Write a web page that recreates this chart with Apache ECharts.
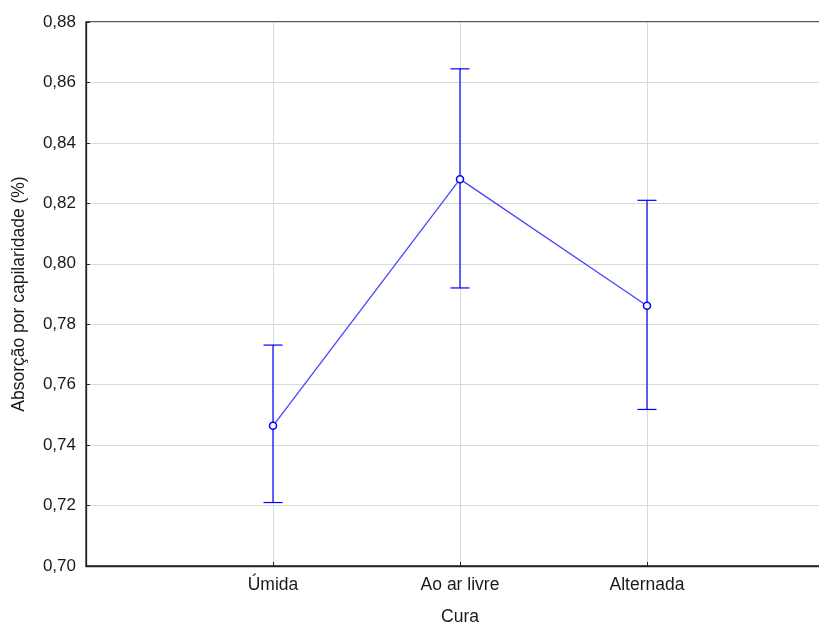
<!DOCTYPE html>
<html>
<head>
<meta charset="utf-8">
<script src="https://cdn.jsdelivr.net/npm/echarts@6/dist/echarts.min.js"></script>
<style>
  html, body { margin: 0; padding: 0; background: #ffffff; }
  #chart { width: 819px; height: 624px; }
</style>
</head>
<body>
<div id="chart"></div>
<script>
// Curing methods (empty slots pad the axis so the three groups sit at 1, 2, 3)
const categories = ['', 'Úmida', 'Ao ar livre', 'Alternada', ''];
const curingGroups = ['Úmida', 'Ao ar livre', 'Alternada'];
// Mean capillary absorption and the ends of each interval
const means = [0.7464, 0.8280, 0.7861];
const upper = [0.7731, 0.8645, 0.8210];
const lower = [0.7210, 0.7920, 0.7518];
// Value-axis ticks
const yTicks = [0.70, 0.72, 0.74, 0.76, 0.78, 0.80, 0.82, 0.84, 0.86, 0.88];

const FONT = 'Liberation Sans, Arial, sans-serif';
const TEXT = '#1a1a1a';
const BLUE = '#0000ff';

const chart = echarts.init(document.getElementById('chart'), null, { renderer: 'canvas' });

const errorData = curingGroups.map((g, i) => [g, lower[i], upper[i]]);
const meanData = curingGroups.map((g, i) => [g, means[i]]);

chart.setOption({
  animation: false,
  backgroundColor: '#ffffff',
  grid: {
    left: 86, top: 22, bottom: 58, right: -15,
    containLabel: false,
    outerBoundsMode: 'none',
    show: true, borderColor: '#222222', borderWidth: 1.3, backgroundColor: 'transparent'
  },
  xAxis: {
    type: 'category',
    data: categories,
    boundaryGap: false,
    name: 'Cura',
    nameLocation: 'middle',
    nameGap: 42,
    nameTextStyle: { fontFamily: FONT, fontSize: 17.5, color: TEXT },
    axisLine: { show: true, lineStyle: { color: '#222222', width: 1.3 } },
    axisTick: { show: true, inside: true, length: 4, lineStyle: { color: '#222222' } },
    axisLabel: { fontFamily: FONT, fontSize: 17.5, color: TEXT, margin: 10 },
    splitLine: { show: true, lineStyle: { color: '#d9d9d9', width: 1 } }
  },
  yAxis: {
    type: 'value',
    min: yTicks[0],
    max: yTicks[yTicks.length - 1],
    interval: 0.02,
    name: 'Absorção por capilaridade (%)',
    nameLocation: 'middle',
    nameGap: 58,
    nameTextStyle: { fontFamily: FONT, fontSize: 17.5, color: TEXT },
    axisLine: { show: true, lineStyle: { color: '#222222', width: 1.3 } },
    axisTick: { show: true, inside: true, length: 4, lineStyle: { color: '#222222' } },
    axisLabel: {
      fontFamily: FONT, fontSize: 17, color: TEXT, margin: 10,
      formatter: v => v.toFixed(2).replace('.', ',')
    },
    splitLine: { show: true, lineStyle: { color: '#d9d9d9', width: 1 } }
  },
  series: [
    {
      name: 'intervalo',
      type: 'custom',
      z: 3,
      data: errorData,
      renderItem: function (params, api) {
        const x = api.value(0);
        const lo = api.coord([x, api.value(1)]);
        const hi = api.coord([x, api.value(2)]);
        const half = 9.5;
        const style = { stroke: BLUE, lineWidth: 1.2 };
        return {
          type: 'group',
          children: [
            { type: 'line', shape: { x1: lo[0], y1: lo[1], x2: hi[0], y2: hi[1] }, style: style },
            { type: 'line', shape: { x1: lo[0] - half, y1: lo[1], x2: lo[0] + half, y2: lo[1] }, style: style },
            { type: 'line', shape: { x1: hi[0] - half, y1: hi[1], x2: hi[0] + half, y2: hi[1] }, style: style }
          ]
        };
      }
    },
    {
      name: 'média',
      type: 'line',
      z: 4,
      data: meanData,
      symbol: 'circle',
      symbolSize: 7,
      itemStyle: { color: '#ffffff', borderColor: BLUE, borderWidth: 1.5 },
      lineStyle: { color: '#4646ff', width: 1.3 }
    }
  ]
});
</script>
</body>
</html>
